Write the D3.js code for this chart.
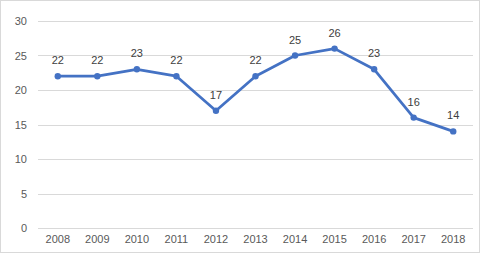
<!DOCTYPE html>
<html>
<head>
<meta charset="utf-8">
<script src="https://cdn.jsdelivr.net/npm/d3@7"></script>
<style>
  body { margin: 0; background: #fff; }
  text { font-family: "Liberation Sans", Arial, sans-serif; }
</style>
</head>
<body>
<div id="canvas"></div>
<script>
const years = ["2008", "2009", "2010", "2011", "2012", "2013", "2014", "2015", "2016", "2017", "2018"];
const values = [22, 22, 23, 22, 17, 22, 25, 26, 23, 16, 14];
const yTicks = [0, 5, 10, 15, 20, 25, 30];

const width = 480, height = 253;
const margin = { top: 21, right: 7, bottom: 25, left: 38 };

const svg = d3.select("#canvas").append("svg")
    .attr("width", width)
    .attr("height", height);

// chart border
svg.append("rect")
    .attr("x", 0.5).attr("y", 0.5)
    .attr("width", width - 1).attr("height", height - 1)
    .attr("fill", "#fff")
    .attr("stroke", "#d9d9d9");

const x = d3.scaleBand()
    .domain(years)
    .range([margin.left, width - margin.right]);

const y = d3.scaleLinear()
    .domain([0, 30])
    .range([height - margin.bottom, margin.top]);

// gridlines
svg.append("g").selectAll("line")
    .data(yTicks)
    .enter().append("line")
    .attr("x1", margin.left)
    .attr("x2", width - margin.right)
    .attr("y1", d => Math.round(y(d)) + 0.5)
    .attr("y2", d => Math.round(y(d)) + 0.5)
    .attr("stroke", "#d9d9d9")
    .attr("stroke-width", 1);

// y axis labels
const yAxis = svg.append("g")
    .attr("transform", `translate(${margin.left},0)`)
    .call(d3.axisLeft(y).tickValues(yTicks).tickSize(0).tickPadding(11));
yAxis.select(".domain").remove();
yAxis.selectAll("text")
    .attr("fill", "#595959")
    .style("font-size", "11px");

// x axis labels
const xAxis = svg.append("g")
    .attr("transform", `translate(0,${height - margin.bottom})`)
    .call(d3.axisBottom(x).tickSize(0).tickPadding(7));
xAxis.select(".domain").remove();
xAxis.selectAll("text")
    .attr("fill", "#595959")
    .style("font-size", "11px");

const cx = d => x(d) + x.bandwidth() / 2;

const line = d3.line()
    .x((d, i) => cx(years[i]))
    .y(d => y(d));

svg.append("path")
    .datum(values)
    .attr("fill", "none")
    .attr("stroke", "#4472C4")
    .attr("stroke-width", 2.75)
    .attr("stroke-linejoin", "round")
    .attr("stroke-linecap", "round")
    .attr("d", line);

svg.append("g").selectAll("circle")
    .data(values)
    .enter().append("circle")
    .attr("cx", (d, i) => cx(years[i]))
    .attr("cy", d => y(d))
    .attr("r", 3.2)
    .attr("fill", "#4472C4");

// data labels
svg.append("g").selectAll("text")
    .data(values)
    .enter().append("text")
    .attr("x", (d, i) => cx(years[i]))
    .attr("y", d => y(d) - 12)
    .attr("text-anchor", "middle")
    .attr("fill", "#404040")
    .style("font-size", "11px")
    .text(d => d);
</script>
</body>
</html>
